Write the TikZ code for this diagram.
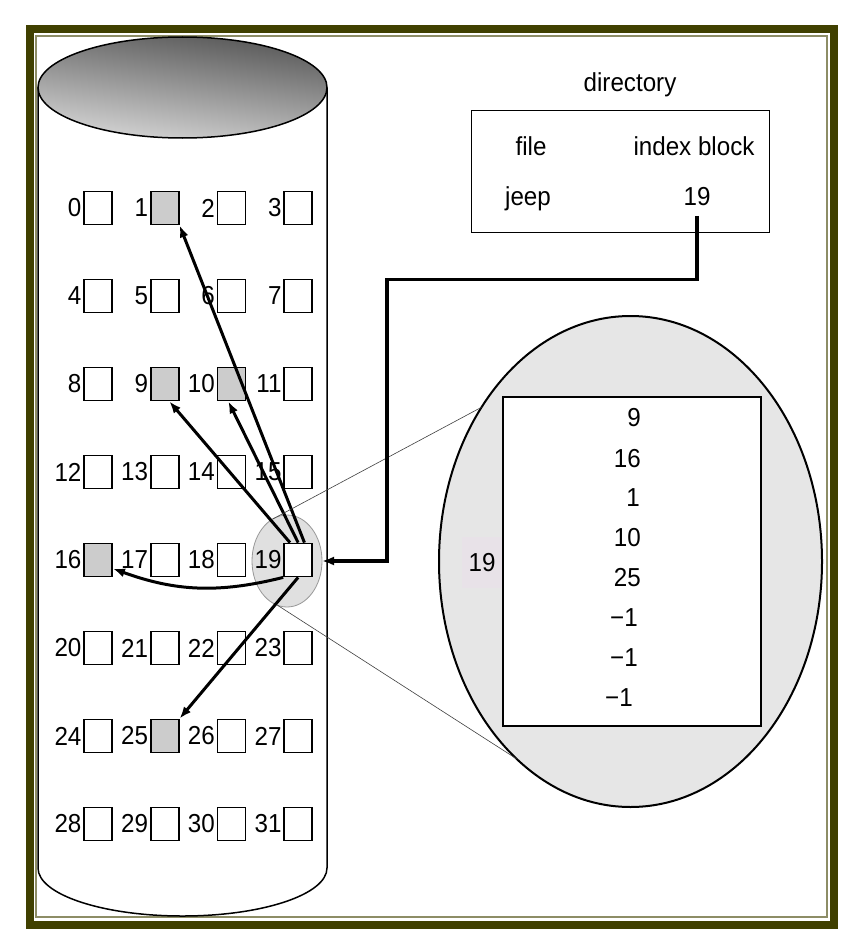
\documentclass[tikz,border=0pt]{standalone}
\usepackage{fontspec}
\setmainfont{Liberation Sans}[FakeStretch=0.93]
\usepackage{tikz}
\usetikzlibrary{arrows.meta,shapes.geometric}

\definecolor{frameolive}{RGB}{64,64,0}
\definecolor{blockgray}{RGB}{204,204,204}
\definecolor{zoomgray}{RGB}{230,230,230}
\definecolor{spotgray}{RGB}{224,224,224}
\definecolor{labelpink}{RGB}{232,226,232}

\begin{document}
\begin{tikzpicture}[x=1pt,y=1pt,>={Latex[length=12pt,width=9pt]},
  font=\fontsize{26}{30}\selectfont,
  blk/.style={draw,fill=white,line width=1.8pt,minimum width=28pt,minimum height=33pt,inner sep=0pt},
  num/.style={anchor=east,inner sep=1.5pt},
  ptr/.style={->,line width=3pt},
  zoomline/.style={line width=0.6pt,black!75}]
  \fill[white] (0,0) rectangle (860,-950);
  \useasboundingbox (0,0) rectangle (860,-950);
  % frame
  \draw[frameolive,line width=8pt] (29.5,-29) rectangle (834,-924.5);
  \draw[frameolive!60,line width=1.5pt] (36,-36) rectangle (827,-917);
  % disk
  \draw[line width=1.5pt] (38,-87.5) -- (38,-868) arc[start angle=180,end angle=360,x radius=144.5,y radius=48] -- (327,-87.5);
  \shadedraw[top color=black!66,bottom color=black!16,shading angle=-8,line width=1.5pt] (182.5,-87.5) ellipse[x radius=144.5,y radius=50.5];
  % spot round the index block
  \node[ellipse,draw=black!40,fill=spotgray,line width=0.8pt,inner sep=0pt,outer sep=0pt,
        minimum width=70pt,minimum height=92pt] (zs) at (287,-561) {};
  % blocks
  \foreach \r in {0,...,7}
    \foreach \c in {0,...,3} {
      \pgfmathtruncatemacro\blkno{4*\r+\c}
      \node[blk] (b\blkno) at (98+66.7*\c,-208-88*\r) {};
      \node[num] (l\blkno) at (b\blkno.west) {\blkno};
    }
  \foreach \k in {1,9,10,16,25} \node[blk,fill=blockgray] (s\k) at (b\k) {};
  % pointers out of block 19
  \draw[ptr] (b19.115) -- (b9.-75);
  \draw[ptr] (b19.north) -- (b10.-100);
  \draw[ptr] (b19.70) -- (b1.south east);
  \draw[ptr] (b19.south west) to[bend left=17] (b16.-30);
  \draw[ptr] (b19.south) -- (b25.north east);
  % magnified index block
  \node[ellipse,draw,fill=zoomgray,line width=2pt,inner sep=0pt,outer sep=0pt,
        minimum width=383pt,minimum height=491pt] (big) at (630.5,-561.5) {};
  \draw[zoomline] (zs.109.7) -- (big.134);
  \draw[zoomline] (zs.258.4) -- (big.240.8);
  \node[draw,fill=white,line width=2pt,minimum width=258pt,minimum height=329pt] (idx) at (632,-561.5) {};
  \node[fill=labelpink,minimum width=40pt,minimum height=51pt,inner sep=0pt] (z19) at (482,-562.5) {19};
  \foreach \v/\xx/\yy [count=\i] in {9/641/418,16/641/459,1/640/498,10/641/538,25/641/578,−1/638/618,−1/638/658,−1/633/698}
    \node[anchor=east,inner sep=0pt] (ix\i) at (\xx,-\yy) {\v};
  % directory
  \node[anchor=base] (dirname) at (630,-92) {directory};
  \node[draw,line width=1.5pt,minimum width=298pt,minimum height=122pt] (dirbox) at (620.5,-171.5) {};
  \node[anchor=base] (hfile) at (531,-155) {file};
  \node[anchor=base] (hindex) at (694,-155) {index block};
  \node[anchor=base] (jeep) at (528,-205) {jeep};
  \node[anchor=base] (dir19) at (697,-205) {19};
  \draw[ptr,line width=3.5pt] ([yshift=-7pt]dir19.south) |- (387,-279.5) |- (zs.east);
\end{tikzpicture}
\end{document}
